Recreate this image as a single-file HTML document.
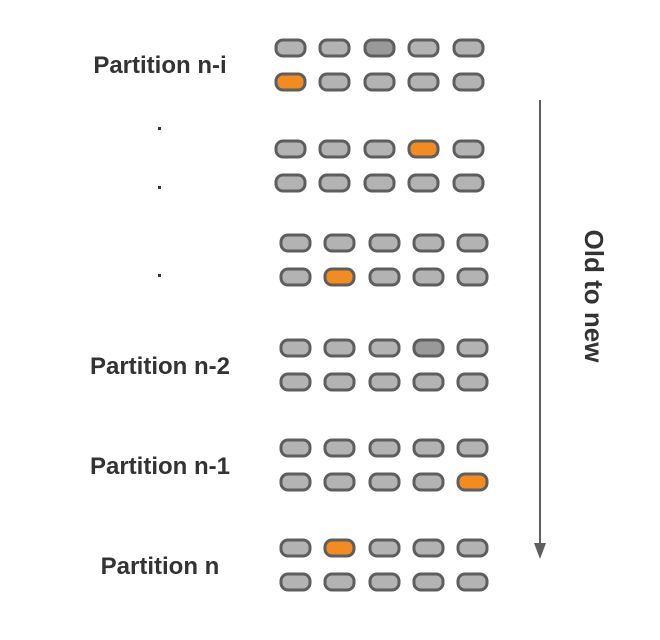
<!DOCTYPE html>
<html><head><meta charset="utf-8"><style>
html,body{margin:0;padding:0;background:#fff;}
svg{display:block;}
text{font-family:"Liberation Sans",sans-serif;font-weight:bold;fill:#333;}
</style></head><body>
<svg width="660" height="640" viewBox="0 0 660 640" xmlns="http://www.w3.org/2000/svg">
<defs>
<g id="p"><rect x="0" y="0" width="29" height="16" rx="7" ry="7" stroke="#5e5e5e" stroke-width="3"/></g>
</defs>
<g fill="#b3b3b3">
<use href="#p" x="276" y="40"/><use href="#p" x="320" y="40"/><use href="#p" x="365" y="40" fill="#999"/><use href="#p" x="409" y="40"/><use href="#p" x="454" y="40"/>
<use href="#p" x="276" y="74" fill="#f28c20"/><use href="#p" x="320" y="74"/><use href="#p" x="365" y="74"/><use href="#p" x="409" y="74"/><use href="#p" x="454" y="74"/>
<use href="#p" x="276" y="141"/><use href="#p" x="320" y="141"/><use href="#p" x="365" y="141"/><use href="#p" x="409" y="141" fill="#f28c20"/><use href="#p" x="454" y="141"/>
<use href="#p" x="276" y="175"/><use href="#p" x="320" y="175"/><use href="#p" x="365" y="175"/><use href="#p" x="409" y="175"/><use href="#p" x="454" y="175"/>
<use href="#p" x="281" y="235"/><use href="#p" x="325" y="235"/><use href="#p" x="370" y="235"/><use href="#p" x="414" y="235"/><use href="#p" x="458" y="235"/>
<use href="#p" x="281" y="269"/><use href="#p" x="325" y="269" fill="#f28c20"/><use href="#p" x="370" y="269"/><use href="#p" x="414" y="269"/><use href="#p" x="458" y="269"/>
<use href="#p" x="281" y="340"/><use href="#p" x="325" y="340"/><use href="#p" x="370" y="340"/><use href="#p" x="414" y="340" fill="#999"/><use href="#p" x="458" y="340"/>
<use href="#p" x="281" y="374"/><use href="#p" x="325" y="374"/><use href="#p" x="370" y="374"/><use href="#p" x="414" y="374"/><use href="#p" x="458" y="374"/>
<use href="#p" x="281" y="440"/><use href="#p" x="325" y="440"/><use href="#p" x="370" y="440"/><use href="#p" x="414" y="440"/><use href="#p" x="458" y="440"/>
<use href="#p" x="281" y="474"/><use href="#p" x="325" y="474"/><use href="#p" x="370" y="474"/><use href="#p" x="414" y="474"/><use href="#p" x="458" y="474" fill="#f28c20"/>
<use href="#p" x="281" y="540"/><use href="#p" x="325" y="540" fill="#f28c20"/><use href="#p" x="370" y="540"/><use href="#p" x="414" y="540"/><use href="#p" x="458" y="540"/>
<use href="#p" x="281" y="574"/><use href="#p" x="325" y="574"/><use href="#p" x="370" y="574"/><use href="#p" x="414" y="574"/><use href="#p" x="458" y="574"/>
</g>
<g font-size="24" text-anchor="middle">
<text x="160" y="73">Partition n-i</text>
<text x="160" y="374">Partition n-2</text>
<text x="160" y="474">Partition n-1</text>
<text x="160" y="574">Partition n</text>
</g>
<g fill="#333">
<rect x="158" y="127" width="3" height="3"/>
<rect x="158" y="186" width="3" height="3"/>
<rect x="158" y="274" width="3" height="3"/>
</g>
<line x1="540" y1="100" x2="540" y2="545" stroke="#5e5e5e" stroke-width="2"/>
<polygon points="534,543 546,543 540,559" fill="#5e5e5e"/>
<text x="585" y="296" font-size="26" text-anchor="middle" transform="rotate(90 585 296)">Old to new</text>
</svg>
</body></html>
